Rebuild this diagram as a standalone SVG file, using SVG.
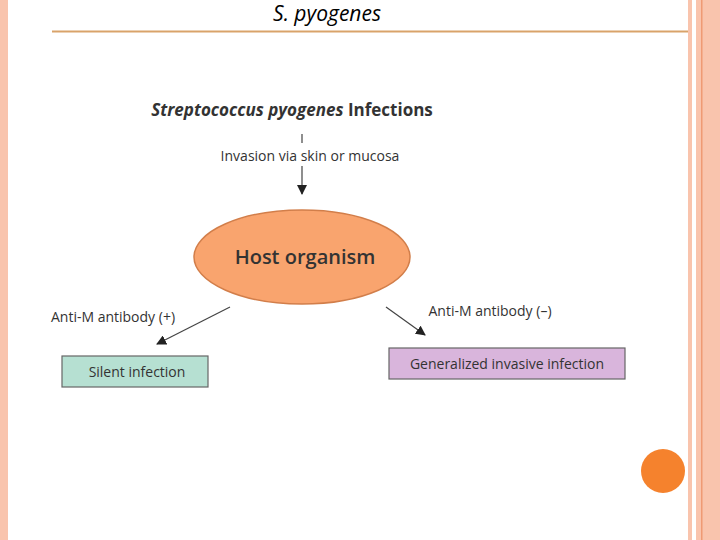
<svg xmlns="http://www.w3.org/2000/svg" width="720" height="540" viewBox="0 0 720 540">
<style>
text{font-family:"Open Sans","Liberation Sans",sans-serif;fill:#333}
.lbl{font-size:14px}
.ln{stroke:#444;stroke-width:1.2;fill:none}
</style>
<defs><marker id="ah" markerWidth="10" markerHeight="10" refX="9" refY="5" orient="auto" markerUnits="userSpaceOnUse"><path d="M0,0 L10,5 L0,10 z" fill="#222"/></marker></defs>
<rect width="720" height="540" fill="#fff"/>
<rect x="0" y="0" width="8" height="540" fill="#f9c4ad"/>
<rect x="688" y="0" width="4" height="540" fill="#f9c4ad"/>
<rect x="696" y="0" width="24" height="540" fill="#f9c4ad"/>
<rect x="701" y="0" width="1.5" height="540" fill="#ef9a74"/>
<text x="327" y="21" font-size="21" font-style="italic" text-anchor="middle" style="font-family:'Open Sans','Liberation Sans',sans-serif;fill:#000">S. pyogenes</text>
<line x1="52" y1="31.5" x2="688" y2="31.5" stroke="#d9a36a" stroke-width="2"/>
<text x="292" y="116" font-size="17" font-weight="bold" text-anchor="middle"><tspan font-style="italic">Streptococcus pyogenes</tspan> Infections</text>
<circle cx="663" cy="471" r="22" fill="#f5822d"/>
<g id="connectors">
<line class="ln" x1="302" y1="134" x2="302" y2="143"/>
<line class="ln" x1="302" y1="166" x2="302" y2="194" marker-end="url(#ah)"/>
<line class="ln" x1="230" y1="307" x2="157" y2="344" marker-end="url(#ah)"/>
<line class="ln" x1="386" y1="307" x2="425" y2="335" marker-end="url(#ah)"/>
<text class="lbl" x="310" y="161" text-anchor="middle">Invasion via skin or mucosa</text>
<text class="lbl" x="113" y="322" text-anchor="middle">Anti-M antibody (+)</text>
<text class="lbl" x="490" y="316" text-anchor="middle">Anti-M antibody (–)</text>
</g>
<g id="host">
<ellipse cx="302" cy="257" rx="108" ry="47" fill="#f9a46e" stroke="#d27e4a" stroke-width="1.5"/>
<text x="305" y="264" font-size="20" font-weight="600" text-anchor="middle">Host organism</text>
</g>
<g id="silent">
<rect x="62" y="356" width="146" height="31" fill="#b6e0d2" stroke="#666" stroke-width="1.2"/>
<text class="lbl" x="137" y="377" text-anchor="middle">Silent infection</text>
</g>
<g id="generalized">
<rect x="389" y="348" width="236" height="31" fill="#d9b5dc" stroke="#666" stroke-width="1.2"/>
<text class="lbl" x="507" y="369" text-anchor="middle">Generalized invasive infection</text>
</g>
</svg>
